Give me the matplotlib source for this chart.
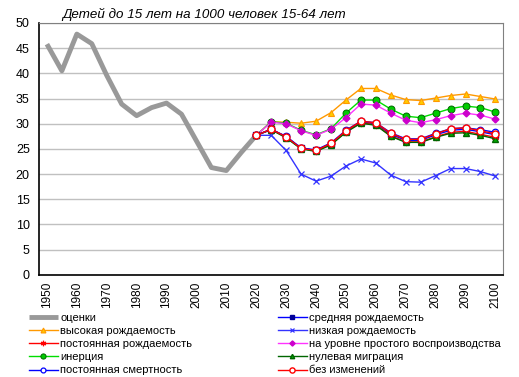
import numpy as np
import matplotlib
matplotlib.use("Agg")
import matplotlib.pyplot as plt

plt.rcParams['font.family'] = ['Liberation Sans', 'DejaVu Sans']

## data: years and values
years_est = list(range(1950, 2021, 5))
years_proj = list(range(2020, 2101, 5))

estimates = [45.8, 40.5, 47.8, 45.9, 39.6, 33.9, 31.6, 33.2, 34.1, 31.9, 26.6, 21.3, 20.7, 24.3, 27.7]
medium = [27.7, 28.9, 27.4, 25.1, 24.7, 26.0, 28.5, 30.3, 30.0, 27.9, 26.7, 26.7, 27.8, 28.7, 28.9, 28.4, 27.8]
high = [27.7, 30.4, 30.3, 30.1, 30.5, 32.2, 34.7, 37.0, 37.0, 35.7, 34.8, 34.6, 35.1, 35.6, 35.9, 35.4, 34.9]
low = [27.7, 27.7, 24.7, 20.0, 18.6, 19.6, 21.6, 23.0, 22.2, 19.8, 18.5, 18.4, 19.7, 21.1, 21.1, 20.5, 19.6]
const_fert = [27.7, 28.9, 27.3, 25.1, 24.6, 25.9, 28.4, 30.2, 29.8, 27.6, 26.4, 26.4, 27.4, 28.3, 28.5, 27.9, 27.3]
replacement = [27.7, 30.3, 30.0, 28.6, 27.7, 28.9, 31.2, 33.9, 33.7, 32.1, 30.7, 30.2, 30.8, 31.6, 32.1, 31.7, 30.9]
inertia = [27.7, 30.4, 30.1, 28.7, 27.8, 29.0, 32.1, 34.7, 34.7, 32.9, 31.5, 31.2, 32.1, 33.0, 33.5, 33.2, 32.3]
zero_mig = [27.7, 28.8, 27.2, 25.0, 24.5, 25.8, 28.3, 30.1, 29.7, 27.5, 26.3, 26.3, 27.3, 28.1, 28.2, 27.7, 27.0]
const_mort = [27.7, 28.9, 27.5, 25.2, 24.8, 26.2, 28.7, 30.5, 30.2, 28.2, 27.0, 27.0, 28.1, 29.0, 29.2, 28.8, 28.3]
no_change = [27.7, 28.9, 27.4, 25.1, 24.7, 26.1, 28.6, 30.5, 30.2, 28.1, 26.9, 26.9, 28.0, 29.0, 29.2, 28.6, 28.0]

fig = plt.figure(figsize=(5.19, 3.77), dpi=100)
ax = fig.add_axes([0.076, 0.271, 0.893, 0.668])

ms = 4.2
h = {}
h['est'], = ax.plot(years_est, estimates, color='#999999', lw=3.5, solid_capstyle='butt')
h['high'], = ax.plot(years_proj, high, color='#FF9900', lw=1, marker='^', ms=ms+0.5, mfc='#FFCC00', mec='#FF9900', mew=0.8)
h['low'], = ax.plot(years_proj, low, color='#3333FF', lw=1, marker='x', ms=ms, mec='#3333FF', mew=0.9)
h['inertia'], = ax.plot(years_proj, inertia, color='#00DD00', lw=1, marker='o', ms=ms+0.8, mfc='#00CC00', mec='#006600', mew=0.7)
h['repl'], = ax.plot(years_proj, replacement, color='#FF33FF', lw=1, marker='D', ms=ms-0.7, mfc='#CC00CC', mec='#CC00CC')
h['medium'], = ax.plot(years_proj, medium, color='#0000FF', lw=1, marker='s', ms=ms, mfc='#000099', mec='#000099')
h['cfert'], = ax.plot(years_proj, const_fert, color='#FF0000', lw=1, marker=(6, 2, 0), ms=ms+1, mec='#FF0000', mew=0.9)
h['zmig'], = ax.plot(years_proj, zero_mig, color='#006600', lw=1, marker='^', ms=ms, mfc='#00AA00', mec='#006600')
h['cmort'], = ax.plot(years_proj, const_mort, color='#0000FF', lw=1, marker='o', ms=ms+0.5, mfc='white', mec='#0000FF', mew=0.9)
h['nochg'], = ax.plot(years_proj, no_change, color='#FF0000', lw=1, marker='o', ms=ms+0.8, mfc='white', mec='#FF0000', mew=1)

ax.set_xlim(1947.5, 2102.5)
ax.set_ylim(0, 50)
ax.set_yticks(range(0, 51, 5))
ax.set_xticks(range(1950, 2101, 10))
ax.set_xticklabels([str(y) for y in range(1950, 2101, 10)], rotation=90, fontsize=8.5)
ax.tick_params(axis='y', labelsize=9, length=0, pad=7)
ax.tick_params(axis='x', length=0, pad=5)
ax.yaxis.grid(True, color='#C0C0C0', lw=1)
ax.set_axisbelow(True)
for s in ['left', 'bottom']:
    ax.spines[s].set_color('black')
    ax.spines[s].set_linewidth(1.2)
for s in ['top', 'right']:
    ax.spines[s].set_color('#808080')

fig.text(62 / 519, 1 - 14 / 377, 'Детей до 15 лет на 1000 человек 15-64 лет',
         style='italic', fontsize=9.6, va='center', ha='left')

order = ['est', 'high', 'cfert', 'inertia', 'cmort', 'medium', 'low', 'repl', 'zmig', 'nochg']
labels = {'est': 'оценки', 'medium': 'средняя рождаемость', 'high': 'высокая рождаемость',
          'low': 'низкая рождаемость', 'cfert': 'постоянная рождаемость',
          'repl': 'на уровне простого воспроизводства', 'inertia': 'инерция',
          'zmig': 'нулевая миграция', 'cmort': 'постоянная смертность', 'nochg': 'без изменений'}
leg = fig.legend([h[k] for k in order], [labels[k] for k in order], ncol=2,
                 loc='upper left', bbox_to_anchor=(29 / 519, 1 - 313 / 377),
                 frameon=False, fontsize=8, handlelength=2.6, handletextpad=0.2,
                 labelspacing=0.28, columnspacing=7.7, borderaxespad=0, borderpad=0,
                 markerscale=0.75)

fig.savefig('out.png', dpi=100)
